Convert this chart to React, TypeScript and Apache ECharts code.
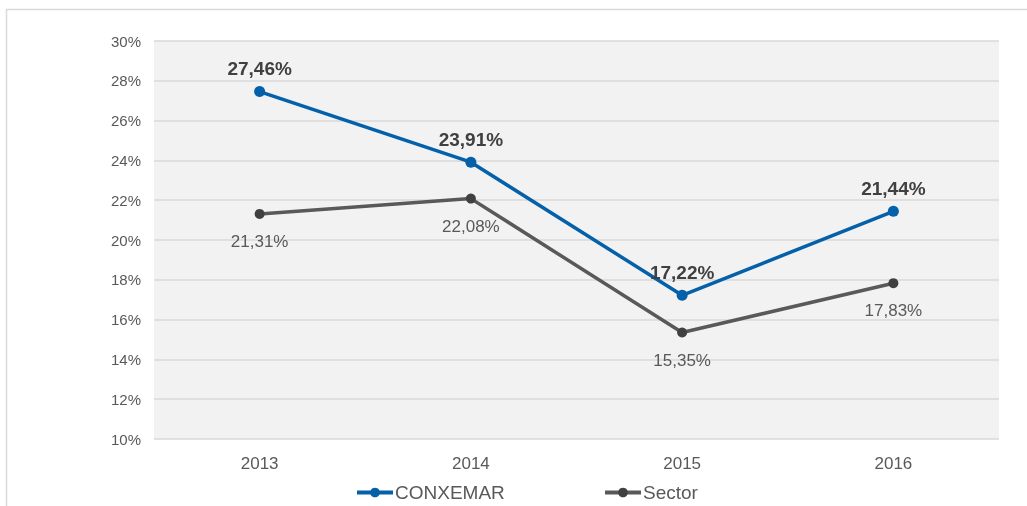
import React, { useEffect, useRef } from "react";
import * as echarts from "echarts";

const categories = ["2013", "2014", "2015", "2016"];
const conxemar = [27.46, 23.91, 17.22, 21.44];
const sector = [21.31, 22.08, 15.35, 17.83];
const yTicks = [10, 12, 14, 16, 18, 20, 22, 24, 26, 28, 30];

const fmt = (v: number) => v.toFixed(2).replace(".", ",") + "%";

export default function App() {
  const ref = useRef<HTMLDivElement>(null);
  useEffect(() => {
    if (!ref.current) return;
    const chart = echarts.init(ref.current, undefined, { renderer: "svg" });
    const legendCommon = {
      top: 478,
      itemWidth: 36,
      itemHeight: 12,
      textStyle: { fontSize: 19, color: "#595959", padding: [0, 0, 0, -3] },
      lineStyle: { width: 4 },
    };
    chart.setOption({
      animation: false,
      textStyle: { fontFamily: "Liberation Sans, Arial, sans-serif" },
      graphic: [
        {
          type: "polyline",
          shape: { points: [[6.5, 520], [6.5, 9.5], [1030, 9.5]] },
          style: { stroke: "#d9d9d9", lineWidth: 1.5, fill: "none" },
          silent: true,
        },
      ],
      grid: { left: 154, right: 28, top: 41, bottom: 67, show: true, backgroundColor: "#f2f2f2", borderWidth: 0 },
      legend: [
        { ...legendCommon, left: 350, data: ["CONXEMAR"] },
        { ...legendCommon, left: 598, data: ["Sector"] },
      ],
      xAxis: {
        type: "category",
        data: categories,
        boundaryGap: true,
        axisLine: { show: false },
        axisTick: { show: false },
        axisLabel: { fontSize: 17, color: "#595959", margin: 16 },
      },
      yAxis: {
        type: "value",
        min: yTicks[0],
        max: yTicks[yTicks.length - 1],
        interval: 2,
        axisLine: { show: false },
        axisTick: { show: false },
        splitLine: { lineStyle: { color: "#d9d9d9", width: 1.5 } },
        axisLabel: { fontSize: 15, color: "#595959", margin: 13, formatter: (v: number) => v + "%" },
      },
      series: [
        {
          name: "CONXEMAR",
          type: "line",
          data: conxemar,
          color: "#0461a9",
          symbol: "circle",
          symbolSize: 11,
          lineStyle: { width: 3.5, color: "#0461a9" },
          itemStyle: { color: "#0461a9" },
          label: {
            show: true,
            position: "top",
            distance: 8,
            fontSize: 19,
            fontWeight: "bold",
            color: "#404040",
            formatter: (p: any) => fmt(p.value),
          },
          z: 3,
        },
        {
          name: "Sector",
          type: "line",
          data: sector,
          color: "#404040",
          symbol: "circle",
          symbolSize: 10,
          lineStyle: { width: 3.5, color: "#595959" },
          itemStyle: { color: "#404040" },
          label: {
            show: true,
            position: "bottom",
            distance: 14,
            fontSize: 17,
            color: "#595959",
            formatter: (p: any) => fmt(p.value),
          },
          z: 2,
        },
      ],
    });
    return () => chart.dispose();
  }, []);
  return <div ref={ref} style={{ position: "fixed", left: 0, top: 0, width: 1027, height: 506 }} />;
}
